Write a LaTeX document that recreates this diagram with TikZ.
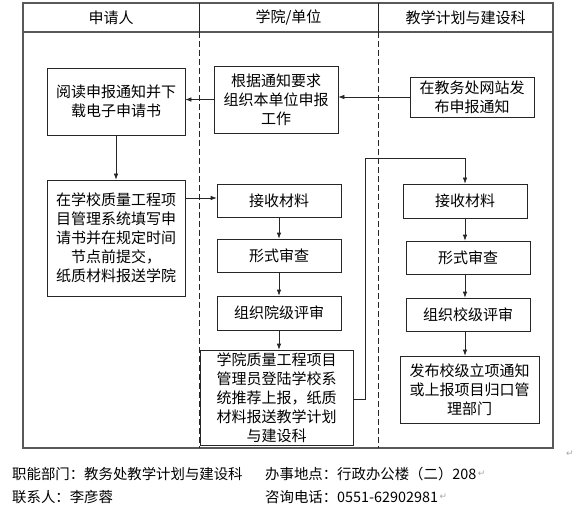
\documentclass[tikz,border=0pt]{standalone}
\usepackage{fontspec}
\setmainfont{Noto Sans CJK SC}
\newfontfamily\markfont{DejaVu Sans}
\usetikzlibrary{arrows.meta,positioning}

\begin{document}
\begin{tikzpicture}[x=1pt,y=-1pt,>=Latex,
  box/.style={draw=black!85,line width=0.7pt,align=center,inner sep=1pt,font=\fontsize{15}{19}\selectfont},
  lane/.style={draw=black!65,line width=1.2pt},
  sep/.style={draw=black!85,line width=0.8pt,dash pattern=on 6pt off 3pt},
  arr/.style={-{Latex[length=6pt,width=4.5pt]},draw=black!85,line width=0.7pt},
  foot/.style={anchor=west,inner sep=0pt,font=\fontsize{14.4}{17}\selectfont},
  ret/.style={text=black!35,inner sep=0pt,font=\markfont\fontsize{9}{10}\selectfont}]
\useasboundingbox (0,0) rectangle (577,521);
% swimlanes
\draw[lane] (23,3) rectangle (553,448);
\draw[lane] (23,32) -- (553,32);
\draw[black!85,line width=0.8pt] (199,3) -- (199,32);
\draw[black!85,line width=0.8pt] (378,3) -- (378,32);
\draw[sep] (199,32) -- (199,448);
\draw[sep] (378,32) -- (378,448);
\node[font=\fontsize{15}{19}\selectfont] (hd0) at (111,17.5) {申请人};
\node[font=\fontsize{15}{19}\selectfont] (hd1) at (288.5,17.5) {学院/单位};
\node[font=\fontsize{15}{19}\selectfont] (hd2) at (465.5,17.5) {教学计划与建设科};
% applicant
\node[box,minimum width=138,minimum height=67] (p0) at (116,101.5) {阅读申报通知并下\\载电子申请书};
\node[box,minimum width=138,minimum height=116] (p1) at (116,238) {在学校质量工程项\\目管理系统填写申\\请书并在规定时间\\节点前提交，\\纸质材料报送学院};
% college
\node[box,minimum width=124,minimum height=67] (c0) at (276,99.5) {根据通知要求\\组织本单位申报\\工作};
\node[box,minimum width=124,minimum height=33] (c1) at (279,200.5) {接收材料};
\node[box,minimum width=124,minimum height=33] (c2) at (279,255.5) {形式审查};
\node[box,minimum width=124,minimum height=34] (c3) at (279,313) {组织院级评审};
\node[box,minimum width=153,minimum height=95] (c4) at (276.5,397.5) {学院质量工程项目\\管理员登陆学校系\\统推荐上报，纸质\\材料报送教学计划\\与建设科};
% teaching office
\node[box,minimum width=124,minimum height=40] (t0) at (472,97) {在教务处网站发\\布申报通知};
\node[box,minimum width=124,minimum height=34] (t1) at (465,201) {接收材料};
\node[box,minimum width=124,minimum height=33] (t2) at (468,257.5) {形式审查};
\node[box,minimum width=124,minimum height=33] (t3) at (468,314.5) {组织校级评审};
\node[box,minimum width=139,minimum height=67] (t4) at (469.5,389.5) {发布校级立项通知\\或上报项目归口管\\理部门};
\coordinate (turn) at (365,158);
% arrows
\draw[arr] (t0.west) -- (t0.west -| c0.east);
\draw[arr] (c0.west) -- (c0.west -| p0.east);
\draw[arr] (p0.south) -- (p1.north);
\draw[arr] (p1.east |- 0,198) -- (c1.west |- 0,198);
\draw[arr] (c1.south) -- (c1.south |- c2.north);
\draw[arr] (c2.south) -- (c2.south |- c3.north);
\draw[arr] (c3.south) -- (c3.south |- c4.north);
\draw[arr] (c4.east |- 0,399) -| (turn) -| (t1.north);
\draw[arr] (t1.south) -- (t1.south |- t2.north);
\draw[arr] (t1.south |- t2.south) -- (t1.south |- t3.north);
\draw[arr] (t1.south |- t3.south) -- (t1.south |- t4.north);
% footer
\node[foot] (f0) at (12,474) {职能部门：教务处教学计划与建设科};
\node[foot] (f1) at (265,474) {办事地点：行政办公楼（二）208};
\node[foot] (f2) at (12,497) {联系人：李彦蓉};
\node[foot] (f3) at (265,497) {咨询电话：0551-62902981};
\node[ret,right=1pt of f1] (r1) {↵};
\node[ret,right=1pt of f3] (r2) {↵};
\node[ret] (r0) at (570,454) {↵};
\end{tikzpicture}
\end{document}
